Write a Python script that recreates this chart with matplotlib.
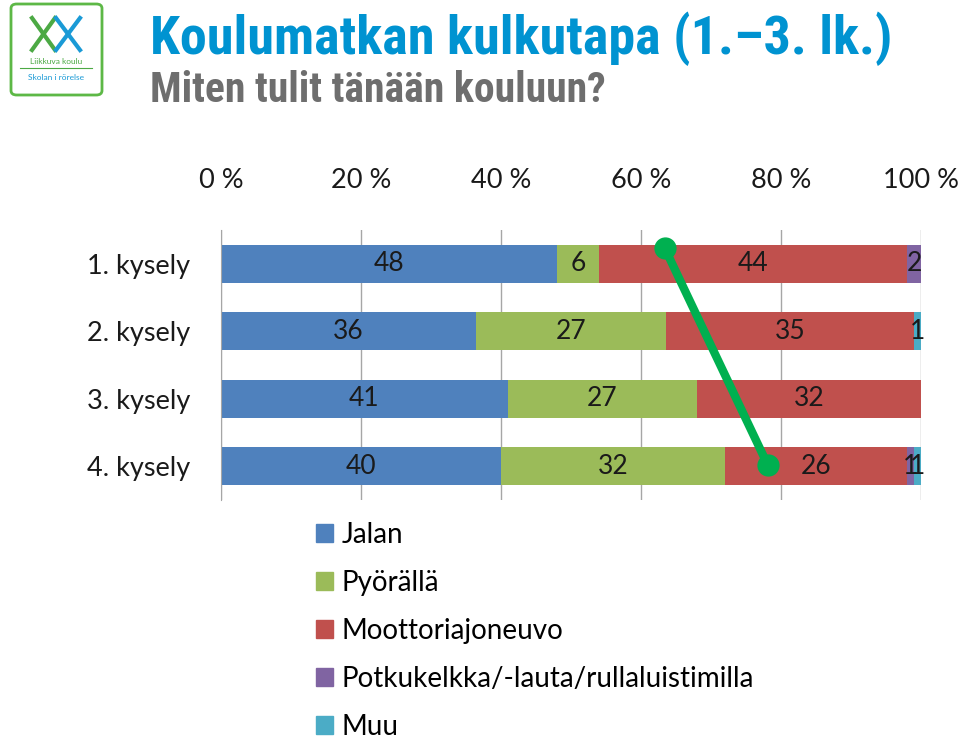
import matplotlib
matplotlib.use("Agg")
import matplotlib.pyplot as plt
import numpy as np
from matplotlib import font_manager as fm
from matplotlib.patches import FancyBboxPatch, Patch

plt.rcParams['font.family'] = ['Lato', 'DejaVu Sans']

# data
surveys = ['1. kysely', '2. kysely', '3. kysely', '4. kysely']
modes = ['Jalan', 'Pyörällä', 'Moottoriajoneuvo',
         'Potkukelkka/-lauta/rullaluistimilla', 'Muu']
jalan = [48, 36, 41, 40]
pyoralla = [6, 27, 27, 32]
moottori = [44, 35, 32, 26]
potku = [2, 0, 0, 1]
muu = [0, 1, 0, 1]
colors = ['#4F81BD', '#9BBB59', '#C0504D', '#8064A2', '#4BACC6']
xticks = [0, 20, 40, 60, 80, 100]

# green line drawn on top (percent, row)
line_x = [63.4, 78.1]
line_y = [-0.23, 2.98]

values = np.array([jalan, pyoralla, moottori, potku, muu], dtype=float)
shares = values / values.sum(axis=0) * 100  # 100 % stacked


def narrow_bold():
    # look for a condensed bold sans for the heading
    prefs = ['Liberation Sans Narrow', 'Arial Narrow', 'Roboto Condensed',
             'Open Sans Condensed', 'Noto Sans', 'DejaVu Sans', 'Liberation Sans']
    for name in prefs:
        for f in fm.fontManager.ttflist:
            if f.name != name:
                continue
            bold = f.weight in ('bold', 700, 'heavy') or (isinstance(f.weight, int) and f.weight >= 700)
            cond = 'narrow' in f.name.lower() or 'condensed' in f.name.lower() \
                or f.stretch in ('condensed', 'semi-condensed', 'extra-condensed') \
                or 'condensed' in f.fname.lower() or 'narrow' in f.fname.lower()
            if bold and cond and 'italic' not in f.fname.lower() and 'extra' not in f.fname.lower():
                return fm.FontProperties(fname=f.fname), True
    return fm.FontProperties(family='Liberation Sans', weight='bold'), False


head_font, is_narrow = narrow_bold()

fig = plt.figure(figsize=(9.6, 7.38), dpi=100)
ax = fig.add_axes([221/960, 1-500/738, 700/960, 270/738])

y = np.arange(len(surveys))
left = np.zeros(len(surveys))
for i in range(len(modes)):
    ax.barh(y, shares[i], left=left, height=0.56, color=colors[i],
            label=modes[i], zorder=2)
    for j in range(len(surveys)):
        if values[i, j] > 0:
            ax.text(left[j] + shares[i, j] / 2, y[j], f"{int(values[i, j])}",
                    ha='center', va='center', fontsize=19, color='#1a1a1a',
                    zorder=4)
    left += shares[i]

ax.plot(line_x, line_y, color='#00B050', lw=6, marker='o', ms=15,
        solid_capstyle='round', zorder=5, clip_on=False)

ax.set_xlim(0, 100)
ax.set_ylim(3.5, -0.5)
ax.set_xticks(xticks)
ax.set_xticklabels([f"{t} %" for t in xticks], fontsize=19.5, color='#1a1a1a')
ax.xaxis.tick_top()
ax.tick_params(axis='x', length=0, pad=27)
ax.set_yticks(y)
ax.set_yticklabels(surveys, fontsize=19.5, color='#1a1a1a')
ax.tick_params(axis='y', length=0, pad=22)
ax.grid(axis='x', color='#A6A6A6', lw=1, zorder=0)
for s in ['top', 'right', 'bottom']:
    ax.spines[s].set_visible(False)
ax.spines['left'].set_color('#A6A6A6')

handles = [Patch(color=c) for c in colors]
fig.legend(handles, modes, loc='upper left', bbox_to_anchor=(305/960, 1-511/738),
           frameon=False, fontsize=20, handlelength=0.62, handleheight=0.62,
           handletextpad=0.3, labelspacing=0.79, borderaxespad=0)

# title
tsize = 39 if is_narrow else 28
ssize = 30 if is_narrow else 22
t1 = fig.text(150/960, 1-54/738, 'Koulumatkan kulkutapa (1.\u20133. lk.)',
              color='#0093D1', va='baseline')
t1.set_fontproperties(head_font)
t1.set_fontsize(tsize)
t2 = fig.text(150/960, 1-102/738, 'Miten tulit tänään kouluun?',
              color='#6E6E6E', va='baseline')
t2.set_fontproperties(head_font)
t2.set_fontsize(ssize)

# logo
fig.patches.append(FancyBboxPatch((11/960, 1-95/738), 91/960, 91/738,
                                  boxstyle='round,pad=0,rounding_size=0.006',
                                  transform=fig.transFigure, fill=False,
                                  ec='#5DB846', lw=2))
fig.lines.append(plt.Line2D([32/960, 55/960], [1-18/738, 1-50/738],
                            transform=fig.transFigure, color='#4CA944', lw=3))
fig.lines.append(plt.Line2D([32/960, 55/960], [1-50/738, 1-18/738],
                            transform=fig.transFigure, color='#4CA944', lw=3))
fig.lines.append(plt.Line2D([56/960, 80/960], [1-18/738, 1-50/738],
                            transform=fig.transFigure, color='#1A9AD6', lw=3))
fig.lines.append(plt.Line2D([56/960, 80/960], [1-50/738, 1-18/738],
                            transform=fig.transFigure, color='#1A9AD6', lw=3))
fig.text(56/960, 1-61/738, 'Liikkuva koulu', fontsize=6, color='#4CA944',
         ha='center', va='center')
fig.lines.append(plt.Line2D([20/960, 92/960], [1-68/738, 1-68/738],
                            transform=fig.transFigure, color='#4CA944', lw=0.8))
fig.text(56/960, 1-77/738, 'Skolan i rörelse', fontsize=6, color='#1A9AD6',
         ha='center', va='center')

fig.savefig('out.png', dpi=100)
